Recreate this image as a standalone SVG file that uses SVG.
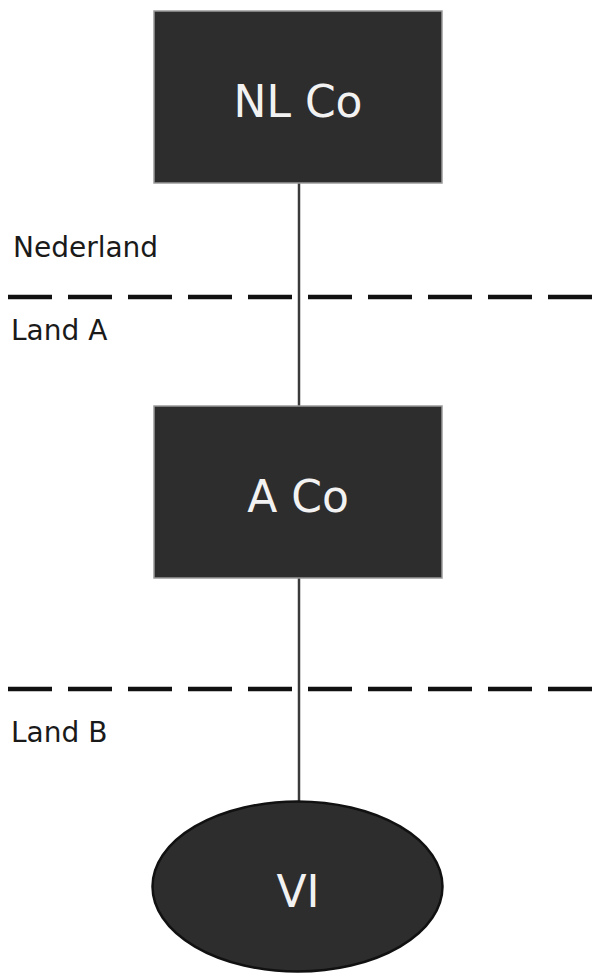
<svg xmlns="http://www.w3.org/2000/svg" width="592" height="976" viewBox="0 0 592 976">
<style>
.box{fill:#2d2d2d;stroke:#9a9a9a;stroke-width:1.5}
.ell{fill:#2d2d2d;stroke:#111;stroke-width:2.5}
.lbl{font-family:"DejaVu Sans","Liberation Sans",sans-serif;fill:#f2f2f2;text-anchor:middle;font-size:44px}
.side{font-family:"DejaVu Sans","Liberation Sans",sans-serif;fill:#1a1a1a;font-size:28px}
.conn{stroke:#3a3a3a;stroke-width:2.5;fill:none}
.dash{stroke:#111;stroke-width:4.5;stroke-dasharray:44 16;fill:none}
</style>
<rect width="592" height="976" fill="#ffffff"/>
<g id="borders">
<line class="dash" x1="8" y1="297" x2="592" y2="297"/>
<line class="dash" x1="8" y1="689" x2="592" y2="689"/>
<text class="side" x="13" y="257">Nederland</text>
<text class="side" x="11" y="340">Land A</text>
<text class="side" x="11" y="742">Land B</text>
</g>
<g id="connectors">
<line class="conn" x1="299" y1="183" x2="299" y2="406"/>
<line class="conn" x1="299" y1="578" x2="299" y2="801"/>
</g>
<g id="nlco">
<rect class="box" x="154" y="11" width="288" height="172"/>
<text class="lbl" x="298" y="117">NL Co</text>
</g>
<g id="aco">
<rect class="box" x="154" y="406" width="288" height="172"/>
<text class="lbl" x="298" y="512">A Co</text>
</g>
<g id="vi">
<ellipse class="ell" cx="297.5" cy="886.5" rx="145" ry="85"/>
<text class="lbl" x="298" y="907">VI</text>
</g>
</svg>
